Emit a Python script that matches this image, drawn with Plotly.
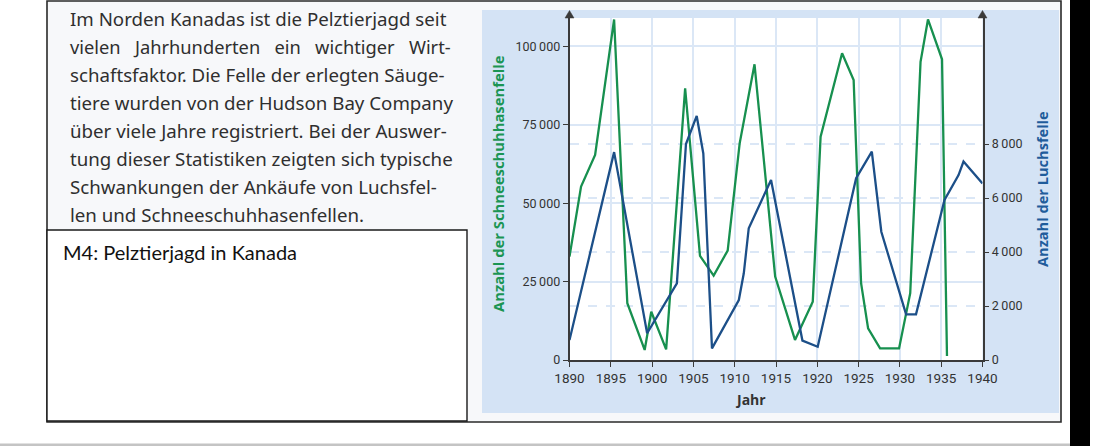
import plotly.graph_objects as go

# ---------------- data ----------------
hare_years = [1890, 1891.4, 1893.1, 1895.4, 1897.0, 1899.1, 1899.9, 1901.7, 1904.0,
              1905.8, 1907.45, 1909.15, 1910.6, 1912.4, 1914.9, 1917.3, 1919.45,
              1920.4, 1923.0, 1924.4, 1925.3, 1926.15, 1927.6, 1929.9, 1931.25,
              1932.5, 1933.4, 1935.1, 1935.7]
hare_pelts = [33000, 55300, 65400, 108600, 18100, 3200, 15400, 3400, 86600,
              33200, 26900, 34900, 69100, 94300, 26600, 6400, 18600,
              71200, 97800, 89300, 24500, 10100, 3700, 3700, 21300,
              95100, 108600, 95900, 1300]

lynx_years = [1890, 1895.4, 1899.4, 1903.0, 1904.1, 1905.4, 1906.2, 1907.25, 1910.5,
              1911.1, 1911.7, 1914.4, 1918.2, 1920.05, 1924.7, 1926.6, 1927.75,
              1930.75, 1931.95, 1935.4, 1937.1, 1937.7, 1940]
lynx_pelts = [740, 7700, 990, 2840, 8000, 9040, 7650, 430, 2220,
              3210, 4880, 6670, 720, 490, 6730, 7720, 4750,
              1690, 1690, 5930, 6850, 7350, 6540]

x_ticks = [1890, 1895, 1900, 1905, 1910, 1915, 1920, 1925, 1930, 1935, 1940]
hare_ticks = [0, 25000, 50000, 75000, 100000]
hare_tick_text = ["0", "25\u2009000", "50\u2009000", "75\u2009000", "100\u2009000"]
lynx_ticks = [0, 2000, 4000, 6000, 8000]
lynx_tick_text = ["0", "2\u2009000", "4\u2009000", "6\u2009000", "8\u2009000"]

paragraph = [
    "Im Norden Kanadas ist die Pelztierjagd seit",
    "vielen\u00a0\u00a0 Jahrhunderten\u00a0\u00a0 ein\u00a0\u00a0 wichtiger\u00a0\u00a0 Wirt-",
    "schaftsfaktor. Die Felle der erlegten Säuge-",
    "tiere wurden von der Hudson Bay Company",
    "über viele Jahre registriert. Bei der Auswer-",
    "tung dieser Statistiken zeigten sich typische",
    "Schwankungen der Ankäufe von Luchsfel-",
    "len und Schneeschuhhasenfellen.",
]
paragraph_sizes = [18.7, 18.3, 18.7, 18.7, 18.7, 18.7, 18.7, 18.7]

# ---------------- geometry ----------------
W, H = 1093, 446
def px(x):
    return x / W
def py(y):
    return 1 - y / H

PL, PR, PT, PB = 569.5, 982.5, 18, 360
GREEN = "#17904f"
BLUE = "#1c4f88"
GRID = "#dbe7f6"
AXC = "#3a3a3a"

fig = go.Figure()
fig.add_trace(go.Scatter(x=hare_years, y=hare_pelts, mode="lines",
                         line=dict(color=GREEN, width=2.3), yaxis="y",
                         hoverinfo="skip"))
fig.add_trace(go.Scatter(x=lynx_years, y=lynx_pelts, mode="lines",
                         line=dict(color=BLUE, width=2.3), yaxis="y2",
                         hoverinfo="skip"))

shapes = []
def rect(x0, y0, x1, y1, fill, line_color=None, lw=0, layer="below"):
    shapes.append(dict(type="rect", xref="paper", yref="paper",
                       x0=px(x0), x1=px(x1), y0=py(y1), y1=py(y0),
                       fillcolor=fill, layer=layer,
                       line=dict(color=line_color or fill, width=lw)))

# outer document box
rect(47, 1, 1061, 422, "#f7f8fa", "#2a2a2a", 1.6)
# chart panel
rect(482, 10, 1059, 413, "#d4e3f5")
# white plot area
rect(PL, PT, PR, PB, "#ffffff")
# M4 caption box
rect(47, 230, 467, 421, "#ffffff", "#1a1a1a", 1.4)
# bottom gray rule and right black bar
rect(0, 443.5, 1070, 446, "#c4c4c4")
rect(1070, 0, 1090, 446, "#000000", layer="above")

# arrow heads on the two value axes
for ax_x in (PL, PR):
    shapes.append(dict(type="path", xref="paper", yref="paper", layer="above",
                       path=f"M {px(ax_x-4.5)},{py(PT)} L {px(ax_x)},{py(10.5)} L {px(ax_x+4.5)},{py(PT)} Z",
                       fillcolor=AXC, line=dict(color=AXC, width=0.5)))

annotations = []
TXT = "#2f2f2f"
line_y = [18.3, 46.5, 74.7, 102.8, 130.8, 158.8, 186.8, 214.8]
for i, t in enumerate(paragraph):
    annotations.append(dict(text=t, x=px(68), y=py(line_y[i]), xref="paper", yref="paper",
                            xanchor="left", yanchor="middle", showarrow=False,
                            font=dict(family="Noto Sans", size=paragraph_sizes[i], color=TXT)))

annotations.append(dict(text="M4: Pelztierjagd in Kanada", x=px(61), y=py(252), xref="paper",
                        yref="paper", xanchor="left", yanchor="middle", showarrow=False,
                        font=dict(family="Lato", size=20, color="#111111")))

annotations.append(dict(text="<b>Anzahl der Schneeschuhhasenfelle</b>", x=px(498), y=py(184),
                        xref="paper", yref="paper", xanchor="center", yanchor="middle",
                        textangle=-90, showarrow=False,
                        font=dict(family="Open Sans", size=14.8, color="#1b9553")))
annotations.append(dict(text="<b>Anzahl der Luchsfelle</b>", x=px(1042), y=py(189),
                        xref="paper", yref="paper", xanchor="center", yanchor="middle",
                        textangle=-90, showarrow=False,
                        font=dict(family="Open Sans", size=14.6, color="#1f5c9b")))
annotations.append(dict(text="<b>Jahr</b>", x=px(750), y=py(399), xref="paper", yref="paper",
                        xanchor="center", yanchor="middle", showarrow=False,
                        font=dict(family="Open Sans", size=14, color="#333333")))

xtickfont = dict(family="Roboto", size=13.5, color="#333333")
ytickfont = dict(family="Roboto", size=12.5, color="#333333")
fig.update_layout(
    width=W, height=H, autosize=False,
    margin=dict(l=0, r=0, t=0, b=0, pad=0, autoexpand=False),
    paper_bgcolor="#ffffff", plot_bgcolor="rgba(0,0,0,0)",
    showlegend=False, shapes=shapes, annotations=annotations,
    xaxis=dict(domain=[px(PL), px(PR)], range=[1890, 1940], tickvals=x_ticks,
               showgrid=True, gridcolor=GRID, gridwidth=1.5, zeroline=False,
               showline=True, linecolor=AXC, linewidth=1.6, automargin=False,
               ticks="outside", ticklen=5, tickwidth=1.4, tickcolor=AXC,
               tickfont=xtickfont, fixedrange=True),
    yaxis=dict(domain=[py(PB), py(PT)], range=[0, 109056], tickvals=hare_ticks,
               ticktext=hare_tick_text, showgrid=True, gridcolor=GRID, gridwidth=1.5,
               zeroline=False, showline=True, linecolor=AXC, linewidth=1.6,
               automargin=False,
               ticks="outside", ticklen=5, tickwidth=1.4, tickcolor=AXC,
               tickfont=ytickfont, fixedrange=True),
    yaxis2=dict(overlaying="y", side="right", anchor="x", range=[0, 12667],
                tickvals=lynx_ticks, ticktext=lynx_tick_text, showgrid=True,
                gridcolor=GRID, gridwidth=1.5, griddash="dash", zeroline=False,
                showline=True, linecolor=AXC, linewidth=1.6, automargin=False,
                ticks="outside", ticklen=5, tickwidth=1.4, tickcolor=AXC,
                tickfont=ytickfont, fixedrange=True),
)

fig.write_html("out.html", config={"displayModeBar": False},
               post_script="document.body.style.margin='0';document.body.style.overflow='hidden';")
